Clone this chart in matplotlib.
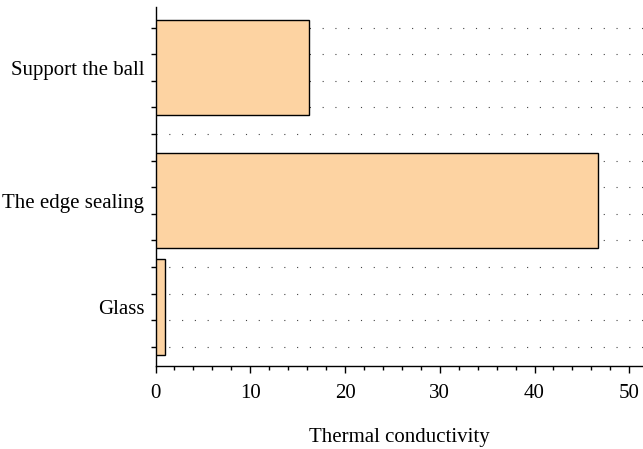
import matplotlib
matplotlib.use("Agg")
import matplotlib.pyplot as plt
from matplotlib.ticker import MultipleLocator, FixedLocator

categories = ["Glass", "The edge sealing", "Support the ball"]
values = [1.0, 46.7, 16.2]
positions = [1.5, 5.5, 10.5]
x_ticks = [0, 10, 20, 30, 40, 50]
x_label = "Thermal conductivity"

plt.rcParams['font.family'] = ['Liberation Serif', 'DejaVu Serif']

fig = plt.figure(figsize=(6.43, 4.49), dpi=100)
ax = fig.add_axes([155.5/643, 83/449, 1 - 155.5/643, (449-83-7)/449])

ax.barh(positions, values, height=3.6, color='#fdd3a2', edgecolor='black',
        linewidth=1.0, zorder=3)

ax.set_xlim(0, 51.45)
ax.set_ylim(-0.726, 12.78)

ax.set_xticks(x_ticks)
ax.xaxis.set_minor_locator(MultipleLocator(2))
ax.set_yticks(positions)
ax.set_yticklabels(categories)
ax.yaxis.set_minor_locator(FixedLocator(list(range(0, 13))))

ax.tick_params(axis='y', which='major', length=0, pad=8, labelsize=15)
ax.tick_params(axis='y', which='minor', length=3.5, width=1.0, direction='out')
ax.tick_params(axis='x', which='major', length=5, width=1.0, direction='out',
               pad=8, labelsize=15)
ax.tick_params(axis='x', which='minor', length=3, width=1.0, direction='out')

ax.grid(True, axis='y', which='minor', color='#444444', linewidth=0.8,
        linestyle=(0, (1, 10.5)), zorder=1)

for s in ['top', 'right']:
    ax.spines[s].set_visible(False)
for s in ['left', 'bottom']:
    ax.spines[s].set_linewidth(1.0)

ax.set_xlabel(x_label, fontsize=15, labelpad=18)

fig.savefig("out.png", dpi=100)
